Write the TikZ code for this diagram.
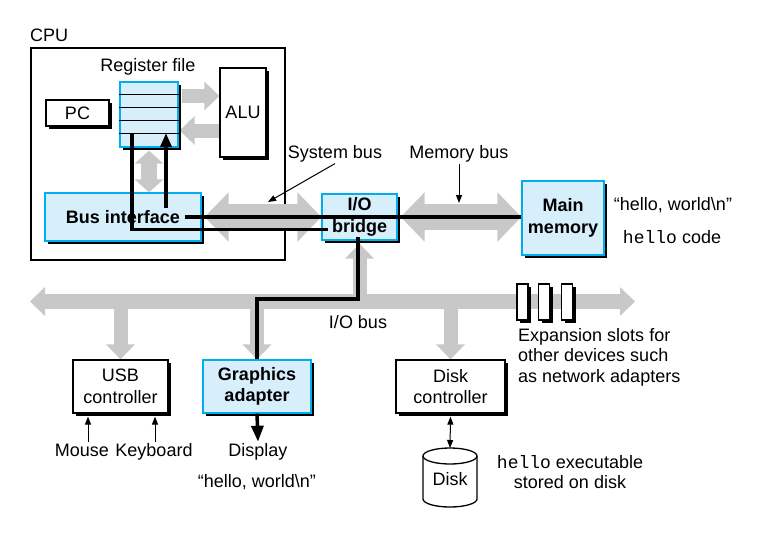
\documentclass[tikz,border=0pt]{standalone}
\usepackage{fontspec}
\setmainfont{Liberation Sans}
\setmonofont{Liberation Mono}
\usetikzlibrary{arrows.meta,shadows,backgrounds}
\definecolor{busgray}{RGB}{200,200,200}
\definecolor{boxfill}{RGB}{214,239,250}
\definecolor{boxedge}{RGB}{0,174,239}
\tikzset{
  devbox/.style={draw, line width=1.2pt, fill=white, align=center, inner sep=0pt,
    drop shadow={opacity=1, fill=black, shadow xshift=3pt, shadow yshift=-3pt}},
  hotbox/.style={devbox, draw=boxedge, fill=boxfill, font=\bfseries},
  txt/.style={inner sep=1pt},
  bigbus/.style={busgray, line width=26pt, {Triangle[width=48pt,length=24pt]}-{Triangle[width=48pt,length=24pt]}},
  iobus/.style={busgray, line width=15pt, {Triangle[width=28pt,length=15pt]}-{Triangle[width=28pt,length=15pt]}},
  feed/.style={busgray, line width=14pt, -{Triangle[width=28pt,length=15pt]}},
  dataflow/.style={line width=3.5pt},
  pointer/.style={line width=1pt, -{Triangle[width=6pt,length=8pt]}}
}
\begin{document}
\fontsize{18}{21.5}\selectfont
\begin{tikzpicture}[x=1pt, y=-1pt]
\useasboundingbox (0,0) rectangle (759,532);

% CPU chip
\node[txt, anchor=west] (cpulabel) at (29,35) {CPU};
\node[devbox] (pc) at (77.5,113) [minimum width=63pt, minimum height=26pt] {PC};
\node[hotbox] (regfile) at (149,114.5) [minimum width=58pt, minimum height=65pt] {};
\foreach \k in {1,...,4}
  \draw[line width=1pt] ([yshift=-\k*13pt]regfile.north west) -- ([yshift=-\k*13pt]regfile.north east);
\node[txt] (reglabel) at (148,67) {Register file};
\node[devbox] (alu) at (243,112.5) [minimum width=46pt, minimum height=89pt] {ALU};
\node[hotbox] (busif) at (123,217) [minimum width=156pt, minimum height=48pt] {Bus interface};

% buses and devices
\node[hotbox] (bridge) at (359.5,217) [minimum width=75pt, minimum height=46pt] {I/O\\bridge};
\node[hotbox] (mainmem) at (563,218) [minimum width=82pt, minimum height=74pt] {Main\\memory};
\node[devbox] (usb) at (120.5,386.5) [minimum width=95pt, minimum height=53pt] {USB\\controller};
\node[hotbox] (gfx) at (257,386.5) [minimum width=108pt, minimum height=53pt] {Graphics\\adapter};
\node[devbox] (diskctl) at (450.5,386.5) [minimum width=109pt, minimum height=53pt] {Disk\\controller};
\foreach \sx [count=\i] in {522.5,544,567}
  \node[devbox, minimum width=11pt, minimum height=36pt] (slot\i) at (\sx,302) {};

% disk
\draw[line width=1.3pt, fill=white] (423,456) -- (423,499) arc[start angle=180, end angle=360, x radius=27pt, y radius=8pt] -- (477,456);
\draw[line width=1.3pt, fill=white] (450,456) ellipse [x radius=27pt, y radius=8pt];
\node[txt] (disk) at (450,479) {Disk};
\coordinate (disktop) at (450,448);

% labels
\node[txt] (sysbus) at (335,154) {System bus};
\node[txt] (membus) at (459,154) {Memory bus};
\node[txt] (msg) at (673,205) {“hello, world\textbackslash n”};
\node[txt] (code) at (672,237) {\texttt{hello} code};
\node[txt] (iobuslabel) at (358,322) {I/O bus};
\node[txt, anchor=north west, align=left, font=\fontsize{18}{20.5}\selectfont] (expand) at (517,327) {Expansion slots for\\other devices such\\as network adapters};
\node[txt, anchor=base] (mouse) at (82,456) {Mouse};
\node[txt, anchor=base] (keyboard) at (154,456) {Keyboard};
\node[txt, anchor=base] (display) at (258,456) {Display};
\node[txt] (shown) at (257,482) {“hello, world\textbackslash n”};
\node[txt, align=center, font=\fontsize{18}{20}\selectfont] (exe) at (570,472) {\texttt{hello} executable\\stored on disk};
\coordinate (systip) at (268,202);
\coordinate (memtip) at (459,203);
\coordinate (busleft) at (30,301.5);
\coordinate (busright) at (635,301.5);

\begin{scope}[on background layer]
\node[draw, line width=2.5pt, inner sep=0pt, minimum width=254pt, minimum height=212pt] (cpu) at (158,154) {};
\draw[feed] ([xshift=3pt,yshift=18.5pt]regfile.east) -- ([yshift=16.5pt]alu.west);
\draw[feed] ([yshift=-18pt]alu.west) -- ([xshift=1pt,yshift=-16pt]regfile.east);
\draw[feed, line width=16pt, {Triangle[width=28pt,length=13pt]}-{Triangle[width=28pt,length=13pt]}] ([yshift=-3pt]regfile.south) -- (regfile.south |- busif.north);
\draw[bigbus] ([xshift=3pt]busif.east) -- (bridge.west);
\draw[bigbus] ([xshift=3pt]bridge.east) -- (mainmem.west |- bridge.east);
\draw[iobus] (busleft) -- (busright);
\draw[feed] (busleft -| bridge) -- ([yshift=-3pt]bridge.south);
\draw[feed] (busleft -| usb) -- (usb.north);
\draw[feed] (busleft -| gfx) -- (gfx.north);
\draw[feed] (busleft -| diskctl) -- (diskctl.north);
\end{scope}

% data paths
\draw[dataflow] ([xshift=62pt]busif.center) -- (mainmem.west |- busif.center);
\draw[dataflow, -{Triangle[width=11pt,length=14pt]}] ([xshift=43pt,yshift=9pt]busif.center) -- ([xshift=17pt,yshift=-18.5pt]regfile.center);
\draw[dataflow] ([xshift=-17pt,yshift=-18.5pt]regfile.center) |- ([xshift=-32pt,yshift=-12.5pt]bridge.center);
\draw[dataflow] ([xshift=-1.5pt,yshift=-20pt]bridge.center) -- ++(0,62) -| (gfx.north);
\draw[dataflow, -{Triangle[width=12pt,length=16pt]}] (gfx.south) -- (display.north);

% pointers
\draw[pointer] (sysbus.south) -- (systip);
\draw[pointer] (membus.south) -- (memtip);
\draw[pointer] ([xshift=6pt]mouse.north) -- ([xshift=-32.5pt,yshift=-3pt]usb.south);
\draw[pointer] ([xshift=1pt]keyboard.north) -- ([xshift=34.5pt,yshift=-3pt]usb.south);
\draw[pointer, {Triangle[width=6pt,length=8pt]}-{Triangle[width=6pt,length=8pt]}] ([yshift=-3pt]diskctl.south) -- (disktop);
\end{tikzpicture}
\end{document}
